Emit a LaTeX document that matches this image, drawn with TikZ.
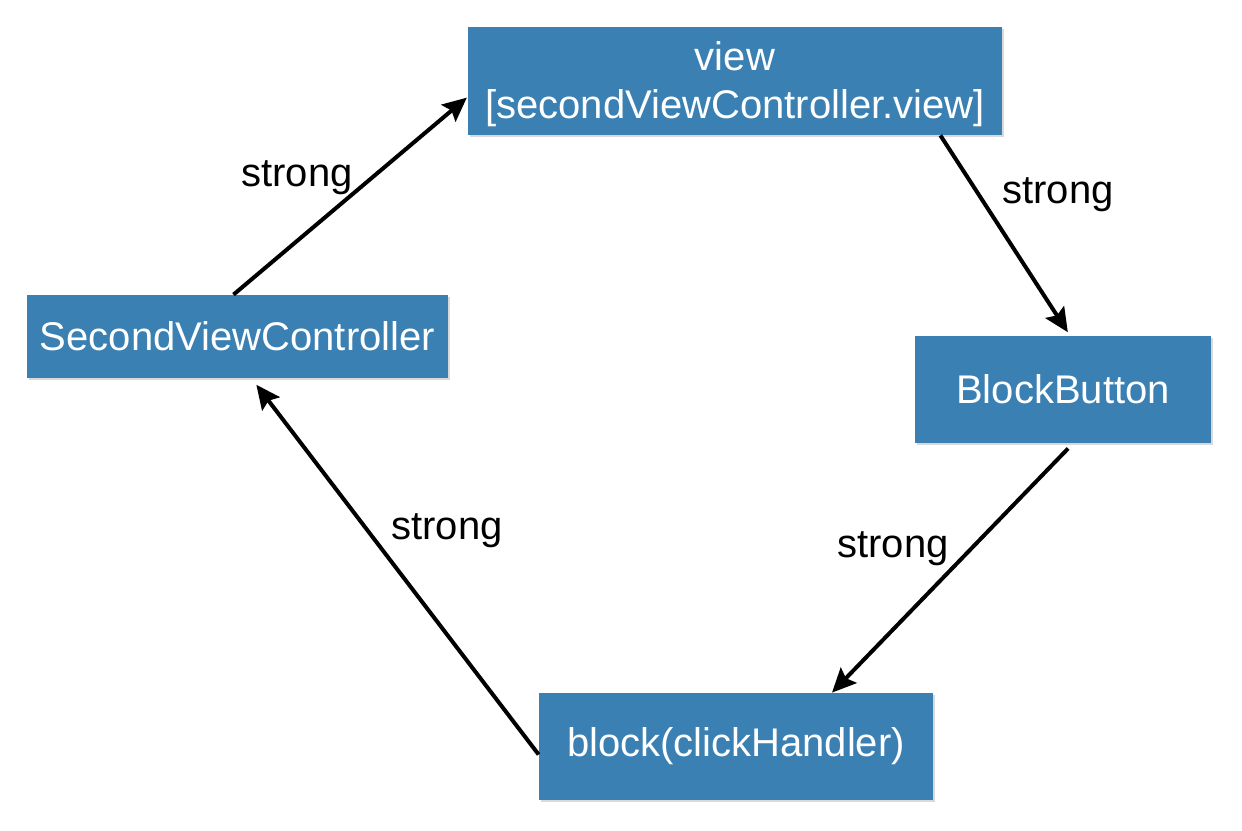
\documentclass[tikz,border=0pt]{standalone}
\usepackage{fontspec}
\setmainfont{Liberation Sans}
\usetikzlibrary{arrows.meta,shadows}
\definecolor{boxblue}{HTML}{3A80B3}
\tikzset{
  box/.style={fill=boxblue,text=white,inner sep=0pt,align=center,
    font=\fontsize{20}{24}\selectfont,
    drop shadow={shadow xshift=0.8pt,shadow yshift=-1.2pt,opacity=0.3}},
  link/.style={-{Stealth[length=12pt,width=11pt,inset=2pt]},line width=2pt},
  lbl/.style={font=\fontsize{20}{22}\selectfont}
}
\begin{document}
\begin{tikzpicture}[x=0.5pt,y=-0.5pt]
            \useasboundingbox (0,0) rectangle (1242,830);
            \node[box,minimum width=267pt,minimum height=54pt] (view) at (735,81) {\rule{0pt}{18pt}view\\{[}secondViewController.view{]}};
            \node[box,minimum width=210.5pt,minimum height=41.5pt] (svc) at (237.5,336.5) {SecondViewController};
            \node[box,minimum width=148pt,minimum height=53.5pt] (bb) at (1063,389.5) {BlockButton};
            \node[box,minimum width=197pt,minimum height=53.5pt] (blk) at (736,746.5) {block(clickHandler)};

            \node[lbl] (l1) at (297,178) {strong};
            \node[lbl] (l2) at (1058,195) {strong};
            \node[lbl] (l3) at (893,549) {strong};
            \node[lbl] (l4) at (447,531) {strong};

            \draw[link,shorten >=0.5pt] ([xshift=-2pt]svc.north) -- ([yshift=-8pt]view.west);
            \draw[link,shorten >=2pt] ([xshift=-31pt]view.south east) -- ([xshift=3.5pt]bb.north);
            \draw[link,shorten <=3.5pt] ([xshift=5pt]bb.south) -- ([xshift=48pt]blk.north);
            \draw[link,shorten >=4pt] ([yshift=-4pt]blk.west) -- ([xshift=7pt]svc.south);
\end{tikzpicture}
\end{document}
